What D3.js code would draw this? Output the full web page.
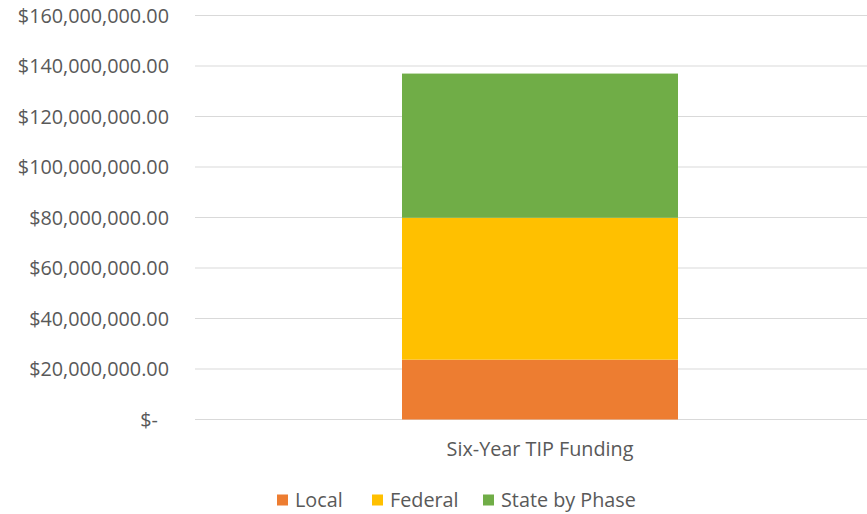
<!DOCTYPE html>
<html>
<head>
<meta charset="utf-8">
<script src="https://cdn.jsdelivr.net/npm/d3@7"></script>
<style>
  body { margin: 0; background: #fff; }
  text { font-family: "Open Sans", "Liberation Sans", sans-serif; fill: #595959; }
</style>
</head>
<body>
<div id="chart"></div>
<script>
// data
const categories = ["Six-Year TIP Funding"];
const seriesNames = ["Local", "Federal", "State by Phase"];
const localValues = [23700000];
const federalValues = [56200000];
const stateValues = [57100000];
const yTicks = [0, 20000000, 40000000, 60000000, 80000000, 100000000, 120000000, 140000000, 160000000];

const colors = ["#ed7d31", "#ffc000", "#70ad47"];

const W = 867, H = 514;
const svg = d3.select("#chart").append("svg")
  .attr("width", W)
  .attr("height", H);

// plot area (the band runs a bit past the right edge, like the original)
const x = d3.scaleBand()
  .domain(categories)
  .range([195, 885])
  .paddingInner(0.6)
  .paddingOuter(0.3);

const y = d3.scaleLinear()
  .domain([0, 160000000])
  .range([419.5, 15.5]);

// gridlines
svg.append("g")
  .selectAll("line")
  .data(yTicks)
  .enter()
  .append("line")
  .attr("x1", 195)
  .attr("x2", W)
  .attr("y1", d => y(d))
  .attr("y2", d => y(d))
  .style("stroke", "#d9d9d9")
  .style("stroke-width", 1);

// y labels, accounting style
const fmt = d3.format(",.2f");
svg.append("g")
  .selectAll("text")
  .data(yTicks)
  .enter()
  .append("text")
  .attr("x", d => d == 0 ? 158 : 169)
  .attr("y", d => y(d))
  .attr("dy", "0.36em")
  .attr("text-anchor", "end")
  .style("font-size", "19.8px")
  .text(d => d == 0 ? "$-" : "$" + fmt(d));

// stack the series
const rows = categories.map((c, i) => ({
  cat: c,
  "Local": localValues[i],
  "Federal": federalValues[i],
  "State by Phase": stateValues[i]
}));
const stacked = d3.stack().keys(seriesNames)(rows);

svg.append("g")
  .selectAll("g")
  .data(stacked)
  .enter()
  .append("g")
  .style("fill", (d, i) => colors[i])
  .selectAll("rect")
  .data(d => d)
  .enter()
  .append("rect")
  .attr("x", d => x(d.data.cat))
  .attr("width", x.bandwidth())
  .attr("y", d => y(d[1]))
  .attr("height", d => y(d[0]) - y(d[1]));

// category label
svg.append("g")
  .selectAll("text")
  .data(categories)
  .enter()
  .append("text")
  .attr("x", d => x(d) + x.bandwidth() / 2)
  .attr("y", 449)
  .attr("dy", "0.36em")
  .attr("text-anchor", "middle")
  .style("font-size", "19.8px")
  .text(d => d);

// legend
const legendX = [277, 372, 483];
const legend = svg.append("g")
  .selectAll("g")
  .data(seriesNames)
  .enter()
  .append("g")
  .attr("transform", (d, i) => "translate(" + legendX[i] + ",500)");

legend.append("rect")
  .attr("x", 0)
  .attr("y", -5.5)
  .attr("width", 11)
  .attr("height", 11)
  .style("fill", (d, i) => colors[i]);

legend.append("text")
  .attr("x", 18)
  .attr("y", 0)
  .attr("dy", "0.36em")
  .style("font-size", "19.8px")
  .text(d => d);
</script>
</body>
</html>
